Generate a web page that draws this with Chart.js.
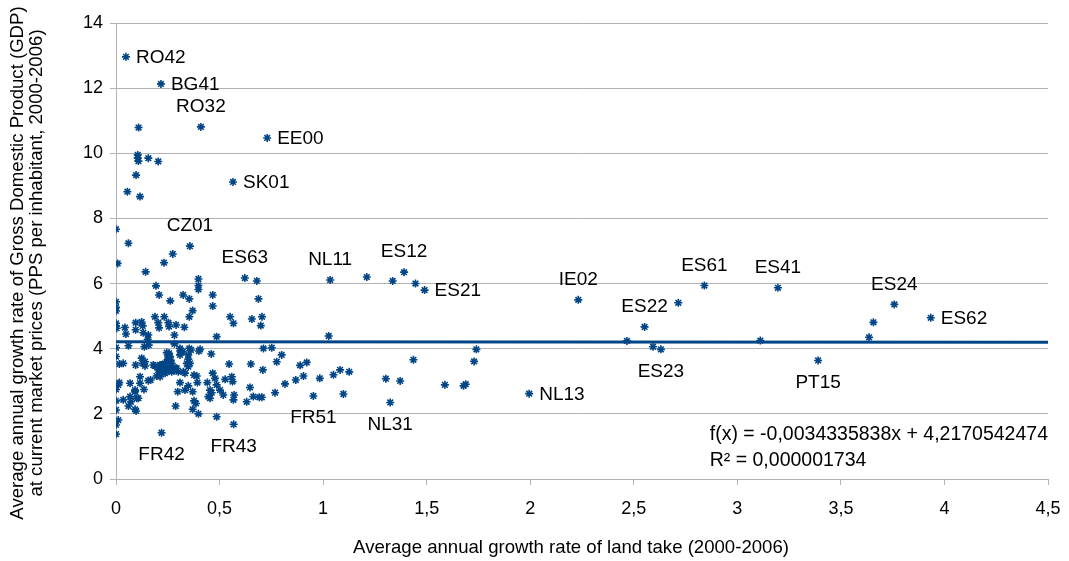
<!DOCTYPE html>
<html>
<head>
<meta charset="utf-8">
<script src="https://cdn.jsdelivr.net/npm/chart.js@4.4.1/dist/chart.umd.min.js"></script>
<style>
html,body{margin:0;padding:0;background:#ffffff;}
#wrap{width:1069px;height:561px;position:relative;}
</style>
</head>
<body>
<div id="wrap"><canvas id="c" width="1069" height="561"></canvas></div>
<script>
// ---------- data ----------
const xTickLabels = ['0','0,5','1','1,5','2','2,5','3','3,5','4','4,5'];
const yTickLabels = ['0','2','4','6','8','10','12','14'];

const regionX = [
0.109,0.105,0.105,0.108,0.156,0.204,0.097,0.055,0.116,
0.0,0.06,0.008,0.143,0.232,0.274,0.193,0.208,0.262,0.324,0.354,0.398,0.398,0.398,0.467,0.467,0.37,0.354,
0.0,0.0,0.0,0.0,0.0,0.003,0.043,0.048,0.095,0.095,0.124,0.129,0.132,0.156,0.153,0.188,0.204,0.208,0.233,0.253,0.256,0.29,0.33,0.282,0.282,
0.486,0.551,0.567,0.656,0.688,0.68,0.705,0.699,
0.0,0.06,0.137,0.158,0.309,0.354,0.406,0.712,0.752,
0.0,0.31,0.322,0.4,0.46,0.8,0.776,0.709,0.651,0.546,0.016,0.035,
0.0,0.0,0.0,0.011,0.0,0.0,0.016,0.011,0.068,0.035,0.068,0.072,0.06,0.092,0.097,0.108,0.092,0.116,0.116,0.135,
0.124,0.129,0.14,0.14,0.095,0.156,0.167,0.196,0.213,0.18,0.188,0.22,0.237,0.229,0.245,0.253,0.245,0.261,0.264,0.253,0.269,0.237,0.213,0.204,
0.285,0.301,0.309,0.349,0.357,0.349,0.325,0.377,0.39,0.393,0.309,0.298,0.333,0.288,0.349,0.37,0.377,0.386,0.37,0.398,
0.441,0.467,0.478,0.486,0.454,0.462,0.446,0.454,0.502,0.518,0.486,0.527,0.559,0.563,0.57,0.567,0.631,0.647,0.663,0.692,0.704,0.768,0.816,
1.211,1.336,1.446,1.027,0.868,0.889,0.905,0.921,0.984,1.05,1.082,1.098,1.126,1.303,1.372,1.436,1.588,1.678,1.689,1.729,1.74,
2.715,2.467,2.593,3.111,3.636,3.657,
0.256,0.253,0.25,0.213,0.233,0.245,0.261,0.269,0.293,0.342,0.349,0.362,0.282,0.333,0.092,0.1
];
const regionY = [
10.79,9.95,9.85,9.76,9.85,9.75,9.33,8.82,8.67,
7.67,7.24,6.62,6.36,6.64,6.91,5.93,5.65,5.47,5.65,5.53,6.14,5.94,5.82,5.65,5.31,5.17,4.98,
5.44,5.27,5.16,4.78,4.70,4.63,4.65,4.45,4.80,4.58,4.82,4.70,4.49,4.42,4.29,4.98,4.80,4.64,4.98,4.80,4.68,4.73,4.66,4.42,4.15,
4.37,4.98,4.78,4.91,5.53,6.08,4.98,4.71,
4.03,4.09,4.06,4.11,4.01,4.01,3.98,4.01,4.03,
3.76,3.93,3.91,3.93,3.84,3.81,3.60,3.35,3.53,3.53,3.53,3.55,
2.75,2.40,2.12,1.81,1.66,1.38,2.96,2.89,2.94,2.43,2.53,2.37,2.24,2.14,2.09,2.48,2.73,2.94,3.14,2.75,
3.71,3.55,3.60,3.47,3.50,3.02,3.04,3.16,3.14,3.50,3.47,3.50,3.55,3.43,3.60,3.81,3.88,3.76,3.65,3.40,3.29,3.25,3.25,3.35,
3.40,3.29,3.81,3.81,3.55,3.45,3.29,3.19,3.16,2.96,2.96,2.68,2.73,2.24,2.86,2.68,2.40,2.32,2.14,2.00,
2.96,3.25,3.09,2.89,2.73,2.65,2.53,2.48,2.73,2.58,1.91,3.06,3.14,2.99,2.58,2.43,2.37,2.81,2.53,2.51,2.51,2.65,2.92,
6.20,6.08,6.00,4.39,3.04,3.49,3.16,3.58,3.09,3.20,3.35,2.61,3.29,3.08,3.01,3.66,2.89,2.86,2.91,3.61,3.98,
5.41,4.24,4.06,4.25,4.35,4.81,
3.86,3.75,3.65,3.50,3.40,3.29,3.40,3.55,3.40,3.55,3.68,3.96,3.35,3.25,2.68,2.48
];

const labelNames = ['RO42','BG41','RO32','EE00','SK01','CZ01','ES63','NL11','ES12','ES21','IE02','ES22','ES61','ES41','ES24','ES62','ES23','PT15','NL13','NL31','FR51','FR42','FR43'];
const labelX = [0.048,0.217,0.41,0.73,0.565,0.357,0.622,1.034,1.391,1.490,2.232,2.552,2.841,3.196,3.758,3.934,2.631,3.390,1.995,1.324,0.953,0.22,0.568];
const labelY = [12.96,12.13,10.81,10.47,9.12,7.15,6.17,6.11,6.35,5.80,5.50,4.67,5.94,5.87,5.36,4.95,3.98,3.64,2.62,2.35,2.55,1.42,1.68];

const trendSlope = -0.0034335838;
const trendIntercept = 4.2170542474;
const trendText = ['f(x) = -0,0034335838x + 4,2170542474', 'R² = 0,000001734'];

const xTitle = 'Average annual growth rate of land take (2000-2006)';
const yTitle = ['Average annual growth rate of Gross Domestic Product (GDP)', 'at current market prices (PPS per inhabitant, 2000-2006)'];

// label placement (style, not data)
const placeRight = new Set(['RO42','BG41','EE00','SK01','ES21','ES62','NL13']);
const placeBelow = new Set(['ES23','PT15','NL31','FR51','FR42','FR43']);

// ---------- build ----------
const BLUE = '#004586';
const FONT = '"Liberation Sans", Arial, sans-serif';
const regionPts = regionX.map((x, i) => ({x: x, y: regionY[i]}));
const labelPts = labelX.map((x, i) => ({x: x, y: labelY[i]}));
const xMin = 0, xMax = 4.5;
const trendPts = [{x: xMin, y: trendIntercept + trendSlope * xMin}, {x: xMax, y: trendIntercept + trendSlope * xMax}];

const overlayPlugin = {
  id: 'overlay',
  afterDatasetsDraw(chart) {
    const ctx = chart.ctx;
    const meta = chart.getDatasetMeta(1);
    ctx.save();
    ctx.fillStyle = '#000';
    ctx.font = '19px ' + FONT;
    meta.data.forEach((el, i) => {
      const name = labelNames[i];
      if (placeRight.has(name)) {
        ctx.textAlign = 'left'; ctx.textBaseline = 'middle';
        ctx.fillText(name, el.x + 10, el.y + 1);
      } else if (placeBelow.has(name)) {
        ctx.textAlign = 'center'; ctx.textBaseline = 'middle';
        ctx.fillText(name, el.x, el.y + 22);
      } else {
        ctx.textAlign = 'center'; ctx.textBaseline = 'middle';
        ctx.fillText(name, el.x, el.y - 20);
      }
    });
    // regression equation
    const a = chart.chartArea;
    ctx.font = '19.5px ' + FONT;
    const w = ctx.measureText(trendText[0]).width;
    ctx.textAlign = 'left'; ctx.textBaseline = 'middle';
    ctx.fillText(trendText[0], a.right - w, a.bottom - 44);
    ctx.fillText(trendText[1], a.right - w, a.bottom - 18);
    // axis titles
    ctx.font = '18.6px ' + FONT;
    ctx.textAlign = 'center'; ctx.textBaseline = 'middle';
    ctx.fillText(xTitle, 571, 548);
    ctx.save();
    ctx.translate(18, 263);
    ctx.rotate(-Math.PI / 2);
    ctx.fillText(yTitle[0], 0, 0);
    ctx.fillText(yTitle[1], 0, 19);
    ctx.restore();
    ctx.restore();
  }
};

const starStyle = {
  pointStyle: 'star', pointRadius: 4, pointHoverRadius: 4,
  borderColor: BLUE, backgroundColor: BLUE, pointBorderWidth: 1.6, showLine: false
};

new Chart(document.getElementById('c'), {
  type: 'scatter',
  data: {
    datasets: [
      Object.assign({label: 'regions', data: regionPts, order: 2}, starStyle),
      Object.assign({label: 'labelled', data: labelPts, order: 2}, starStyle),
      {label: 'trend', type: 'line', data: trendPts, borderColor: BLUE, borderWidth: 3,
       pointRadius: 0, fill: false, order: 1}
    ]
  },
  options: {
    responsive: false, animation: false, devicePixelRatio: 1,
    layout: {padding: {top: 23, right: 21, left: 0, bottom: 0}},
    plugins: {legend: {display: false}, tooltip: {enabled: false}},
    scales: {
      x: {
        type: 'linear', min: xMin, max: xMax,
        afterFit: s => { s.height = 82; s.paddingRight = 0; s.paddingLeft = 0; },
        ticks: {stepSize: 0.5, color: '#000', padding: 13, font: {size: 18, family: FONT},
                callback: (v) => xTickLabels[Math.round(v / 0.5)]},
        grid: {drawOnChartArea: false, drawTicks: true, tickLength: 6, color: '#b3b3b3'},
        border: {display: true, color: '#b3b3b3'}
      },
      y: {
        min: 0, max: 14,
        afterFit: s => { s.width = 116; s.paddingTop = 0; s.paddingBottom = 0; },
        ticks: {stepSize: 2, color: '#000', padding: 7, font: {size: 18, family: FONT},
                callback: (v) => yTickLabels[Math.round(v / 2)]},
        grid: {color: '#b3b3b3', tickLength: 6, drawTicks: true},
        border: {display: true, color: '#b3b3b3'}
      }
    }
  },
  plugins: [overlayPlugin]
});
</script>
</body>
</html>
